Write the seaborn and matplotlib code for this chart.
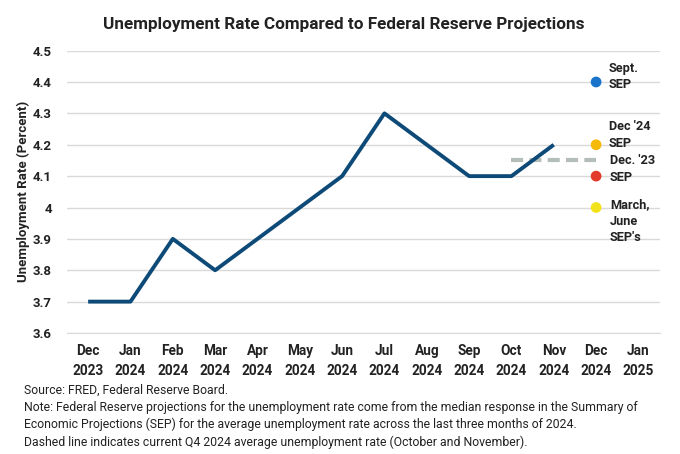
import matplotlib
matplotlib.use("Agg")
import matplotlib.pyplot as plt
import seaborn as sns
import pandas as pd

# data
months = ["Dec\n2023", "Jan\n2024", "Feb\n2024", "Mar\n2024", "Apr\n2024", "May\n2024",
          "Jun\n2024", "Jul\n2024", "Aug\n2024", "Sep\n2024", "Oct\n2024", "Nov\n2024",
          "Dec\n2024", "Jan\n2025"]
unrate_months = months[:12]
unrate = [3.7, 3.7, 3.9, 3.8, 3.9, 4.0, 4.1, 4.3, 4.2, 4.1, 4.1, 4.2]

q4_avg_months = ["Oct\n2024", "Dec\n2024"]
q4_avg = [4.15, 4.15]

sep_names = ["Sept.\nSEP", "Dec '24\nSEP", "Dec. '23\nSEP", "March,\nJune\nSEP's"]
sep_values = [4.4, 4.2, 4.1, 4.0]
sep_colors = ["#1a74cc", "#f5b90a", "#e23b2b", "#f2e21c"]
sep_month = "Dec\n2024"

yticks = [3.6, 3.7, 3.8, 3.9, 4.0, 4.1, 4.2, 4.3, 4.4, 4.5]
ytick_labels = ["3.6", "3.7", "3.8", "3.9", "4", "4.1", "4.2", "4.3", "4.4", "4.5"]

sns.set_style("white")
plt.rcParams["font.family"] = ["Roboto", "DejaVu Sans"]

line_df = pd.DataFrame({"pos": [months.index(m) for m in unrate_months], "rate": unrate})
dash_df = pd.DataFrame({"pos": [months.index(m) for m in q4_avg_months], "rate": q4_avg})
sep_df = pd.DataFrame({"pos": [months.index(sep_month)] * len(sep_values),
                       "rate": sep_values, "name": sep_names})

fig = plt.figure(figsize=(6.8, 4.54), dpi=100)
ax = fig.add_axes([0.0985, 0.2665, 0.8715, 0.622])

sns.lineplot(data=line_df, x="pos", y="rate", ax=ax, color="#0d4a78", linewidth=2.8,
             solid_capstyle="butt", zorder=3)
n_before = len(ax.get_lines())
sns.lineplot(data=dash_df, x="pos", y="rate", ax=ax, color="#b5bdb9", linewidth=3.0,
             zorder=2)
for ln in ax.get_lines()[n_before:]:
    ln.set_linestyle((0, (2.9, 1.5)))
    ln.set_dash_capstyle("butt")
sns.scatterplot(data=sep_df, x="pos", y="rate", hue="name", palette=sep_colors,
                s=60, edgecolor="none", ax=ax, legend=False, zorder=4)

label_offsets = [(9, 4), (9, 7), (10, 5), (10, -10)]
for name, val, off in zip(sep_names, sep_values, label_offsets):
    ax.annotate(name, (months.index(sep_month), val), xytext=off, textcoords="offset points",
                ha="left", va="center", fontsize=9.2, fontweight="bold", color="#222222",
                linespacing=1.35)

ax.set_xlim(-0.5, len(months) - 0.5)
ax.set_ylim(3.6, 4.5)
ax.set_yticks(yticks)
ax.set_yticklabels(ytick_labels, fontsize=9.5, fontweight="bold", color="#222222")
ax.set_xticks(range(len(months)))
ax.set_xticklabels(months, fontsize=9.8, fontweight="bold", color="#222222", linespacing=1.5)
ax.set_xticks([i - 0.5 for i in range(len(months) + 1)], minor=True)
ax.tick_params(axis="x", which="major", length=0, pad=8)
ax.tick_params(axis="x", which="minor", length=4, color="#d9d9d9", width=1)
ax.tick_params(axis="y", length=0, pad=11)
ax.grid(axis="y", color="#d9d9d9", linewidth=1)
for s in ["left", "right", "top"]:
    ax.spines[s].set_visible(False)
ax.spines["bottom"].set_color("#d9d9d9")
ax.set_xlabel("")
ax.set_ylabel("Unemployment Rate (Percent)", fontsize=9.5, fontweight="bold",
              color="#222222", labelpad=2)

fig.text(0.505, 0.947, "Unemployment Rate Compared to Federal Reserve Projections",
         ha="center", va="center", fontsize=12.3, fontweight="bold", color="#222222")

notes = ("Source: FRED, Federal Reserve Board.\n"
         "Note: Federal Reserve projections for the unemployment rate come from the median response in the Summary of\n"
         "Economic Projections (SEP) for the average unemployment rate across the last three months of 2024.\n"
         "Dashed line indicates current Q4 2024 average unemployment rate (October and November).")
fig.text(0.036, 0.155, notes, ha="left", va="top", fontsize=8.8, color="#222222", linespacing=1.4)

fig.savefig("out.png", dpi=100)
